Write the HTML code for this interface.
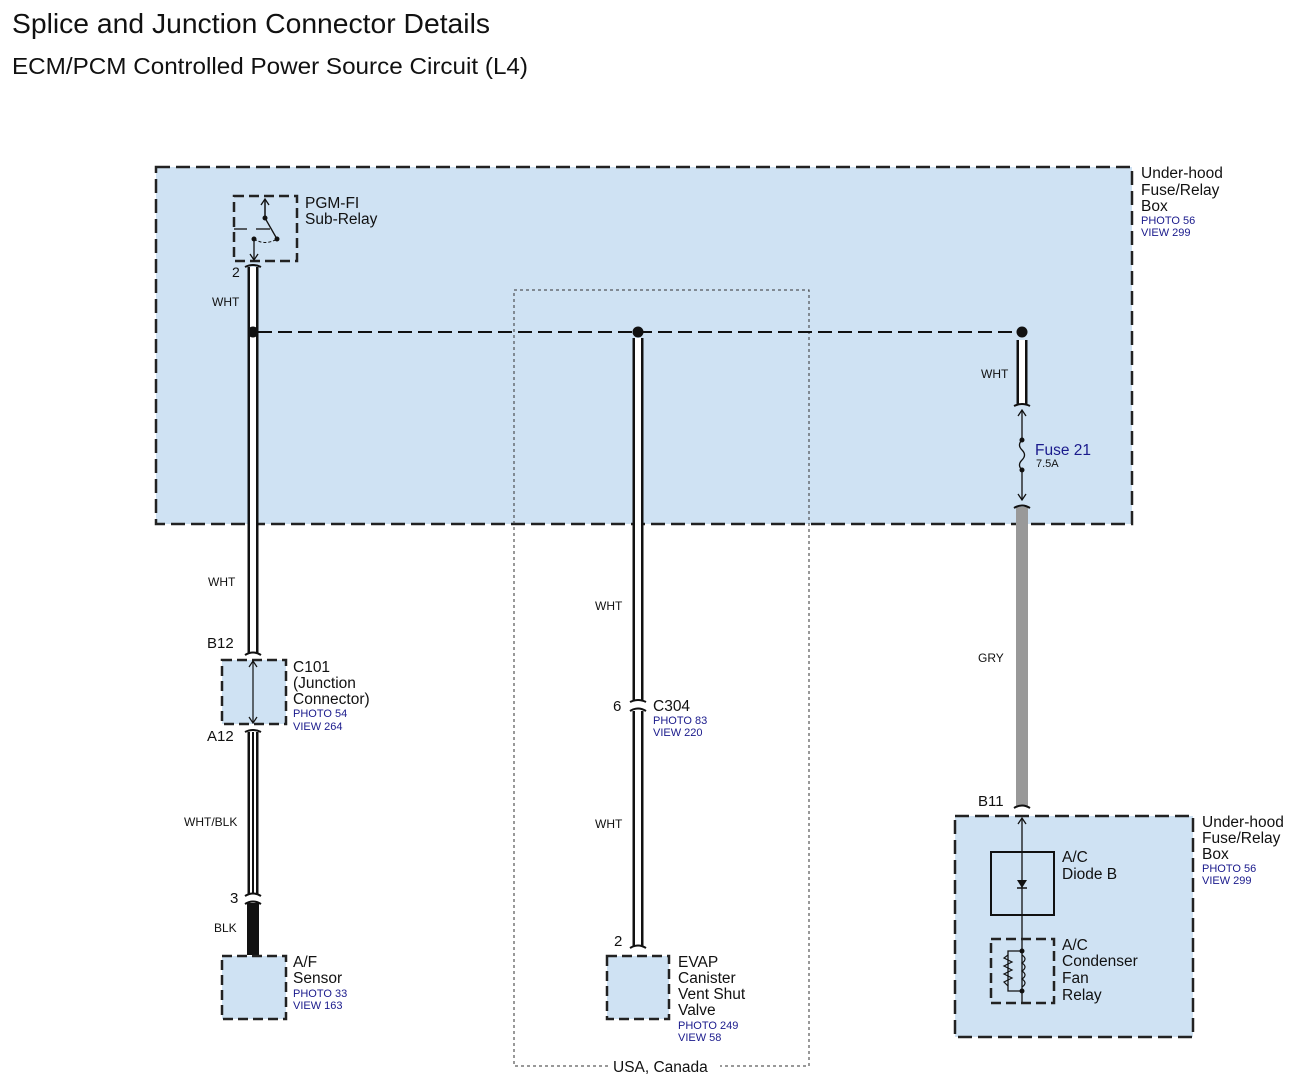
<!DOCTYPE html>
<html><head><meta charset="utf-8"><style>
html,body{margin:0;padding:0;background:#fff}
svg{display:block}
text{font-family:"Liberation Sans",Arial,sans-serif;fill:#111}
.b{fill:#1a1a8c}
</style></head><body>
<svg width="1294" height="1086" viewBox="0 0 1294 1086" xmlns="http://www.w3.org/2000/svg">
<text x="12" y="33" font-size="28" textLength="478" lengthAdjust="spacingAndGlyphs">Splice and Junction Connector Details</text>
<text x="12" y="74" font-size="23" textLength="516" lengthAdjust="spacingAndGlyphs">ECM/PCM Controlled Power Source Circuit (L4)</text>

<rect x="156" y="167" width="976" height="357" fill="#cfe2f3" stroke="#222" stroke-width="2.5" stroke-dasharray="14,6"/>
<text x="1141" y="178" font-size="15.5">Under-hood</text>
<text x="1141" y="195" font-size="15.5">Fuse/Relay</text>
<text x="1141" y="211" font-size="15.5">Box</text>
<text x="1141" y="224" font-size="11" class="b">PHOTO 56</text>
<text x="1141" y="236" font-size="11" class="b">VIEW 299</text>

<rect x="514" y="290" width="295" height="776" fill="none" stroke="#333" stroke-width="1" stroke-dasharray="3,3"/>
<rect x="608" y="1056" width="112" height="18" fill="#fff"/>
<text x="613" y="1072" font-size="15.5">USA, Canada</text>

<rect x="234" y="196" width="63" height="65" fill="none" stroke="#222" stroke-width="2.5" stroke-dasharray="10,5"/>
<line x1="265" y1="200" x2="265" y2="218" stroke="#111" stroke-width="1.5"/>
<path d="M261 205 L265 199 L269 205" fill="none" stroke="#111" stroke-width="1.3"/>
<circle cx="265" cy="218" r="2.5" fill="#111"/>
<line x1="265" y1="218" x2="277" y2="239" stroke="#111" stroke-width="1.3"/>
<circle cx="277" cy="239" r="2.5" fill="#111"/>
<line x1="234" y1="229" x2="247" y2="229" stroke="#111" stroke-width="1.3"/>
<line x1="256" y1="229" x2="270" y2="229" stroke="#111" stroke-width="1.3"/>
<path d="M254 239 Q265 246 277 239" fill="none" stroke="#111" stroke-width="1" stroke-dasharray="3,2"/>
<circle cx="254" cy="239" r="2.5" fill="#111"/>
<line x1="254" y1="239" x2="254" y2="259" stroke="#111" stroke-width="1.3"/>
<path d="M250 254 L254 260 L258 254" fill="none" stroke="#111" stroke-width="1.3"/>
<text x="305" y="208" font-size="15.5">PGM-FI</text>
<text x="305" y="224" font-size="15.5">Sub-Relay</text>
<text x="232" y="277" font-size="14">2</text>

<line x1="258" y1="332" x2="1018" y2="332" stroke="#111" stroke-width="2" stroke-dasharray="14,6"/>

<line x1="253" y1="267" x2="253" y2="653" stroke="#111" stroke-width="11"/>
<line x1="253" y1="267" x2="253" y2="653" stroke="#fff" stroke-width="6"/>
<path d="M245 267 Q253 263 261 267" fill="none" stroke="#111" stroke-width="2"/>
<path d="M245 655 Q253 650 261 655" fill="none" stroke="#111" stroke-width="2"/>
<circle cx="253" cy="332" r="5.5" fill="#111"/>
<text x="212" y="306" font-size="12">WHT</text>
<text x="208" y="586" font-size="12">WHT</text>
<text x="207" y="648" font-size="15">B12</text>

<rect x="222" y="660" width="64" height="64" fill="#cfe2f3" stroke="#222" stroke-width="2.5" stroke-dasharray="10,5"/>
<line x1="253" y1="662" x2="253" y2="722" stroke="#111" stroke-width="1.2"/>
<path d="M249 667 L253 661 L257 667 M249 717 L253 723 L257 717" fill="none" stroke="#111" stroke-width="1.2"/>
<text x="293" y="672" font-size="15.5">C101</text>
<text x="293" y="688" font-size="15.5">(Junction</text>
<text x="293" y="704" font-size="15.5">Connector)</text>
<text x="293" y="717" font-size="11" class="b">PHOTO 54</text>
<text x="293" y="730" font-size="11" class="b">VIEW 264</text>
<text x="207" y="741" font-size="15">A12</text>

<line x1="253" y1="732" x2="253" y2="894" stroke="#111" stroke-width="11"/>
<line x1="253" y1="732" x2="253" y2="894" stroke="#fff" stroke-width="6"/>
<line x1="253" y1="732" x2="253" y2="894" stroke="#111" stroke-width="2"/>
<path d="M245 732 Q253 728 261 732" fill="none" stroke="#111" stroke-width="2"/>
<path d="M245 896 Q253 891 261 896" fill="none" stroke="#111" stroke-width="2"/>
<text x="184" y="826" font-size="12">WHT/BLK</text>
<text x="230" y="903" font-size="15">3</text>
<line x1="253" y1="903" x2="253" y2="955" stroke="#111" stroke-width="12"/>
<path d="M245 904 Q253 899 261 904" fill="none" stroke="#111" stroke-width="2"/>
<text x="214" y="932" font-size="12">BLK</text>

<rect x="222" y="956" width="64" height="63" fill="#cfe2f3" stroke="#222" stroke-width="2.5" stroke-dasharray="10,5"/>
<text x="293" y="967" font-size="15.5">A/F</text>
<text x="293" y="983" font-size="15.5">Sensor</text>
<text x="293" y="997" font-size="11" class="b">PHOTO 33</text>
<text x="293" y="1009" font-size="11" class="b">VIEW 163</text>

<line x1="638" y1="338" x2="638" y2="700" stroke="#111" stroke-width="11"/>
<line x1="638" y1="338" x2="638" y2="700" stroke="#fff" stroke-width="6"/>
<line x1="638" y1="711" x2="638" y2="946" stroke="#111" stroke-width="11"/>
<line x1="638" y1="711" x2="638" y2="946" stroke="#fff" stroke-width="6"/>
<path d="M630 702 Q638 698 646 702 M630 711 Q638 706 646 711 M630 948 Q638 943 646 948" fill="none" stroke="#111" stroke-width="2"/>
<circle cx="638" cy="332" r="5.5" fill="#111"/>
<text x="595" y="610" font-size="12">WHT</text>
<text x="595" y="828" font-size="12">WHT</text>
<text x="613" y="711" font-size="15">6</text>
<text x="653" y="711" font-size="15.5">C304</text>
<text x="653" y="724" font-size="11" class="b">PHOTO 83</text>
<text x="653" y="736" font-size="11" class="b">VIEW 220</text>
<text x="614" y="946" font-size="15">2</text>
<rect x="607" y="956" width="62" height="63" fill="#cfe2f3" stroke="#222" stroke-width="2.5" stroke-dasharray="10,5"/>
<text x="678" y="967" font-size="15.5">EVAP</text>
<text x="678" y="983" font-size="15.5">Canister</text>
<text x="678" y="999" font-size="15.5">Vent Shut</text>
<text x="678" y="1015" font-size="15.5">Valve</text>
<text x="678" y="1029" font-size="11" class="b">PHOTO 249</text>
<text x="678" y="1041" font-size="11" class="b">VIEW 58</text>

<circle cx="1022" cy="332" r="5.5" fill="#111"/>
<line x1="1022" y1="340" x2="1022" y2="404" stroke="#111" stroke-width="11"/>
<line x1="1022" y1="340" x2="1022" y2="404" stroke="#fff" stroke-width="6"/>
<path d="M1014 406 Q1022 402 1030 406" fill="none" stroke="#111" stroke-width="2"/>
<text x="981" y="378" font-size="12">WHT</text>
<line x1="1022" y1="411" x2="1022" y2="440" stroke="#111" stroke-width="1.3"/>
<line x1="1022" y1="470" x2="1022" y2="500" stroke="#111" stroke-width="1.3"/>
<path d="M1018 416 L1022 410 L1026 416 M1018 494 L1022 500 L1026 494" fill="none" stroke="#111" stroke-width="1.3"/>
<circle cx="1022" cy="440" r="2.5" fill="#111"/>
<circle cx="1022" cy="470" r="2.5" fill="#111"/>
<path d="M1022 440 Q1017 445 1022 450 Q1027 455 1022 460 Q1017 465 1022 470" fill="none" stroke="#111" stroke-width="1.3"/>
<text x="1035" y="455" font-size="15.5" class="b">Fuse 21</text>
<text x="1036" y="467" font-size="11">7.5A</text>
<line x1="1022" y1="507" x2="1022" y2="806" stroke="#999" stroke-width="12"/>
<path d="M1014 508 Q1022 503 1030 508 M1014 808 Q1022 803 1030 808" fill="none" stroke="#111" stroke-width="2"/>
<text x="978" y="662" font-size="12">GRY</text>
<text x="978" y="806" font-size="15">B11</text>

<rect x="955" y="816" width="238" height="221" fill="#cfe2f3" stroke="#222" stroke-width="2.5" stroke-dasharray="14,6"/>
<text x="1202" y="827" font-size="15.5">Under-hood</text>
<text x="1202" y="843" font-size="15.5">Fuse/Relay</text>
<text x="1202" y="859" font-size="15.5">Box</text>
<text x="1202" y="872" font-size="11" class="b">PHOTO 56</text>
<text x="1202" y="884" font-size="11" class="b">VIEW 299</text>
<line x1="1022" y1="818" x2="1022" y2="1002" stroke="#111" stroke-width="1.3"/>
<path d="M1018 824 L1022 818 L1026 824" fill="none" stroke="#111" stroke-width="1.3"/>
<rect x="991" y="852" width="63" height="63" fill="none" stroke="#111" stroke-width="2"/>
<path d="M1017 880 L1027 880 L1022 888 Z" fill="#111"/>
<line x1="1017" y1="888" x2="1027" y2="888" stroke="#111" stroke-width="1.5"/>
<text x="1062" y="862" font-size="15.5">A/C</text>
<text x="1062" y="879" font-size="15.5">Diode B</text>
<rect x="991" y="939" width="63" height="64" fill="none" stroke="#222" stroke-width="2.5" stroke-dasharray="10,5"/>
<circle cx="1022" cy="951" r="2.5" fill="#111"/>
<circle cx="1022" cy="991" r="2.5" fill="#111"/>
<path d="M1022 951 L1008 951 L1008 991 L1022 991" fill="none" stroke="#111" stroke-width="1.3"/>
<path d="M1008 955 L1004 958 L1012 962 L1004 966 L1012 970 L1004 974 L1012 978 L1004 982 L1008 986" fill="none" stroke="#111" stroke-width="1.2"/>
<path d="M1022 955 Q1028 959 1022 963 Q1028 967 1022 971 Q1028 975 1022 979 Q1028 983 1022 987" fill="none" stroke="#111" stroke-width="1.2"/>
<text x="1062" y="950" font-size="15.5">A/C</text>
<text x="1062" y="966" font-size="15.5">Condenser</text>
<text x="1062" y="983" font-size="15.5">Fan</text>
<text x="1062" y="1000" font-size="15.5">Relay</text>
</svg>
</body></html>
